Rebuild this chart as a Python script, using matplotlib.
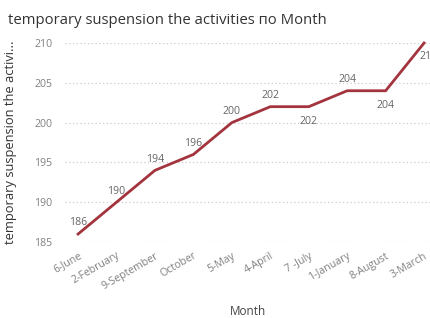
import matplotlib
matplotlib.use("Agg")
import matplotlib.pyplot as plt
import matplotlib.transforms as mtrans

months = ["6-June", "2-February", "9-September", "October", "5-May", "4-April",
          "7 -July", "1-January", "8-August", "3-March"]
values = [186, 190, 194, 196, 200, 202, 202, 204, 204, 210]
label_pos = ["above", "above", "above", "above", "above", "above",
             "below", "above", "below", "right"]
yticks = [185, 190, 195, 200, 205, 210]

W, H = 431, 318
fig = plt.figure(figsize=(W / 100, H / 100), dpi=100)
plt.rcParams['font.family'] = ['Open Sans', 'DejaVu Sans']

left, right, top, bottom = 65, 431, 43, 242
ax = fig.add_axes([left / W, 1 - bottom / H, (right - left) / W, (bottom - top) / H])

x = list(range(len(months)))
ax.plot(x, values, color="#a3343d", lw=2.0, clip_on=False, solid_joinstyle="miter", zorder=3)

ax.set_xlim(-0.34, 9.18)
ax.set_ylim(185, 210)
ax.set_yticks(yticks)
ax.set_xticks(x)
ax.set_xticklabels(months, rotation=30, ha="right", rotation_mode="anchor",
                   fontsize=7.6, color="#808080")
shift = mtrans.ScaledTranslation(-4 / 100, 0, fig.dpi_scale_trans)
for lbl in ax.get_xticklabels():
    lbl.set_transform(lbl.get_transform() + shift)
ax.tick_params(axis="y", labelsize=7.6, labelcolor="#808080", length=0, pad=9)
ax.tick_params(axis="x", length=0, pad=6)
for s in ax.spines.values():
    s.set_visible(False)
ax.grid(axis="y", color="#cccccc", linestyle=(0, (1, 2)), lw=0.9)
ax.set_axisbelow(True)

for xi, v, p in zip(x, values, label_pos):
    if p == "above":
        off, ha = (0, 8), "center"
    elif p == "below":
        off, ha = (0, -10.5), "center"
    else:
        off, ha = (-3, -10), "left"
    ax.annotate(str(v), (xi, v), xytext=off, textcoords="offset points",
                ha=ha, va="center", fontsize=7.6, color="#666666",
                annotation_clip=False)

ax.set_xlabel("Month", fontsize=8.5, color="#444444")
ax.xaxis.set_label_coords(0.5, -0.315)
ax.set_ylabel("temporary suspension the activi...", fontsize=9.3, color="#333333")
ax.yaxis.set_label_coords(-0.13, 0.5)

fig.text(8 / W, 1 - 20 / H, "temporary suspension the activities по Month",
         fontsize=10.7, color="#333333", ha="left", va="center")

fig.savefig("out.png", dpi=100)
